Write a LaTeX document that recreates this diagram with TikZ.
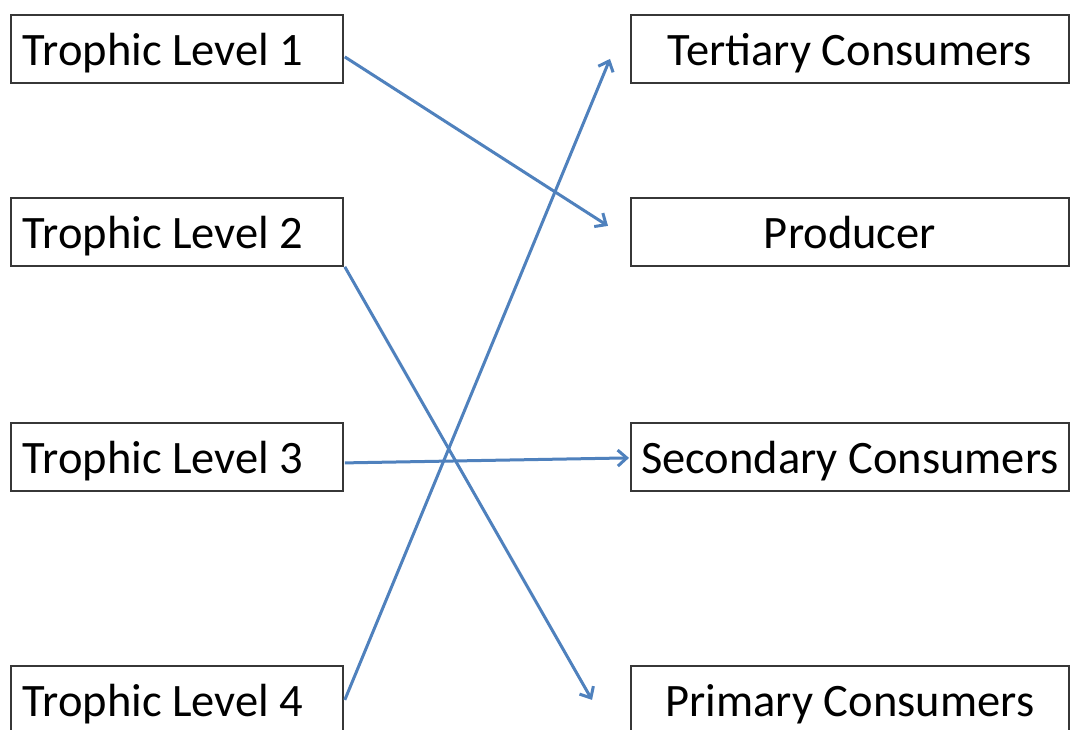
\documentclass[tikz,border=0pt]{standalone}
\usepackage{fontspec}
\setmainfont{Carlito}
\usetikzlibrary{arrows.meta,calc}
\definecolor{arrowblue}{RGB}{79,129,189}
\definecolor{boxgray}{RGB}{55,55,55}
\newcommand\lboxtext[1]{\makebox[308pt][l]{#1}}
\tikzset{
  box/.style={draw=boxgray, line width=1.8pt, inner ysep=0pt, text height=51pt, text depth=17pt,
    font=\fontsize{46.5}{56}\selectfont, fill=white},
  leftbox/.style={box, anchor=north west, inner xsep=12pt},
  rightbox/.style={box, anchor=north west, minimum width=438pt, inner xsep=0pt},
  link/.style={draw=arrowblue, line width=3pt, -{Straight Barb[length=9pt,width=16pt,line width=3pt]}}
}
\begin{document}
\begin{tikzpicture}[x=1pt,y=-1pt]
\useasboundingbox (0,0) rectangle (1073,730);
\clip (0,0) rectangle (1073,730);
\fill[white] (0,0) rectangle (1073,730);
\node[leftbox] (t1) at (10,14) {\lboxtext{Trophic Level 1}};
\node[leftbox] (t2) at (10,197) {\lboxtext{Trophic Level 2}};
\node[leftbox] (t3) at (10,422) {\lboxtext{Trophic Level 3}};
\node[leftbox] (t4) at (10,665) {\lboxtext{Trophic Level 4}};
\node[rightbox] (tert) at (630,14) {Tertiary Consumers};
\node[rightbox] (prod) at (630,197) {Producer};
\node[rightbox] (sec) at (630,422) {Secondary Consumers};
\node[rightbox] (prim) at (630,665) {Primary Consumers};
\coordinate (e1) at ($(prod.west)+(-22,-6)$);
\coordinate (e2) at ($(prim.west)+(-38,0)$);
\coordinate (e4) at ($(tert.west)+(-20,10)$);
\draw[link] ($(t1.east)+(1,8)$) -- (e1);
\draw[link] ($(t2.south east)+(1,0)$) -- (e2);
\draw[link] ($(t3.east)+(1,6)$) -- ($(sec.west)+(-1,1)$);
\draw[link] ($(t4.east)+(1,0)$) -- (e4);
\end{tikzpicture}
\end{document}
